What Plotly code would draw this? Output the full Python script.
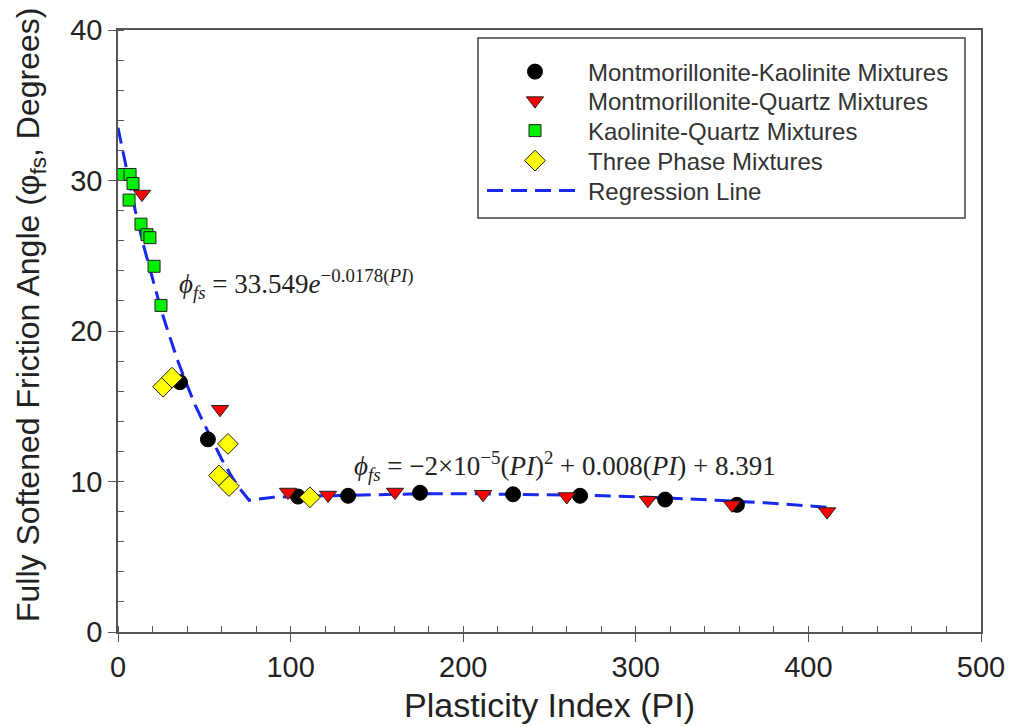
import plotly.graph_objects as go

# ---- data ----
mk_pi = [104.3, 133.3, 175.0, 228.9, 267.7, 317.0, 358.6, 35.9, 52.1]
mk_phi = [9.0, 9.05, 9.25, 9.15, 9.05, 8.8, 8.45, 16.6, 12.8]

mq_pi = [13.9, 59.1, 98.5, 121.7, 160.5, 211.5, 260.0, 307.0, 355.7, 410.8]
mq_phi = [29.1, 14.8, 9.3, 9.1, 9.3, 9.15, 9.0, 8.75, 8.45, 8.0]

kq_pi = [3.0, 7.0, 8.7, 6.4, 13.3, 16.8, 18.5, 20.9, 24.9]
kq_phi = [30.4, 30.4, 29.8, 28.7, 27.1, 26.4, 26.2, 24.3, 21.7]

tp_pi = [26.1, 31.3, 58.5, 63.7, 64.3, 111.2]
tp_phi = [16.3, 16.9, 10.4, 12.5, 9.7, 8.95]

reg_pi = [0, 5, 10, 15, 20, 25, 30, 35, 40, 45, 50, 55, 60, 65, 70, 76,
          90, 110, 130, 150, 175, 200, 225, 250, 275, 300, 325, 350, 375, 400, 415]
reg_phi = [33.5, 30.7, 28.0, 25.6, 23.5, 21.4, 19.6, 17.9, 16.4, 15.0, 13.8, 12.6,
           11.5, 10.5, 9.6, 8.75, 8.95, 9.03, 9.09, 9.14, 9.18, 9.19, 9.16, 9.14,
           9.07, 8.99, 8.88, 8.74, 8.58, 8.39, 8.26]

names = ["Montmorillonite-Kaolinite Mixtures", "Montmorillonite-Quartz Mixtures",
         "Kaolinite-Quartz Mixtures", "Three Phase Mixtures", "Regression Line"]

# plot area in pixels (for placing legend rows / titles)
L, R, T, B = 118, 981, 30, 632
PW, PH = R - L, B - T


def px(xp):
    return (xp - L) / PW


def py(yp):
    return (B - yp) / PH


fig = go.Figure()
fig.add_trace(go.Scatter(x=reg_pi, y=reg_phi, mode="lines", name=names[4],
                         line=dict(color="#1828ee", width=3, dash="16px,8px"),
                         showlegend=False))
fig.add_trace(go.Scatter(x=mk_pi, y=mk_phi, mode="markers", name=names[0], legend="legend",
                         marker=dict(symbol="circle", size=15, color="black",
                                     line=dict(color="black", width=1))))
fig.add_trace(go.Scatter(x=mq_pi, y=mq_phi, mode="markers", name=names[1], legend="legend2",
                         marker=dict(symbol="triangle-down", size=15, color="#ff0000",
                                     line=dict(color="#222", width=1))))
fig.add_trace(go.Scatter(x=kq_pi, y=kq_phi, mode="markers", name=names[2], legend="legend3",
                         marker=dict(symbol="square", size=12, color="#00ee00",
                                     line=dict(color="#222", width=1))))
fig.add_trace(go.Scatter(x=tp_pi, y=tp_phi, mode="markers", name=names[3], legend="legend4",
                         marker=dict(symbol="diamond", size=16, color="#ffff00",
                                     line=dict(color="#222", width=1))))
fig.add_trace(go.Scatter(x=[None], y=[None], mode="lines", name=names[4], legend="legend5",
                         line=dict(color="#1828ee", width=3, dash="16px,8px")))

axis_common = dict(showline=True, linecolor="#555", linewidth=1.5, mirror=True,
                   ticks="outside", ticklen=8, tickwidth=1.2, tickcolor="#555",
                   showgrid=False, zeroline=False, automargin=False,
                   tickfont=dict(family="Liberation Sans, Arial", size=29, color="#222"))

legend_rows_y = [72, 101, 131, 161, 191]
legend_font = dict(family="Liberation Sans, Arial", size=24, color="#333")
legends = {}
for i, yy in enumerate(legend_rows_y):
    key = "legend" if i == 0 else f"legend{i + 1}"
    legends[key] = dict(x=px(482), y=py(yy), xanchor="left", yanchor="middle",
                        bgcolor="rgba(0,0,0,0)", borderwidth=0, itemwidth=96,
                        font=legend_font)

fig.update_layout(
    width=1013, height=727,
    margin=dict(l=L, r=1013 - R, t=T, b=727 - B),
    paper_bgcolor="white", plot_bgcolor="white",
    xaxis=dict(range=[0, 500], dtick=100, tick0=0,
               minor=dict(dtick=20, ticks="inside", ticklen=6, tickcolor="#555"),
               title=dict(text="Plasticity Index (PI)", standoff=12,
                          font=dict(family="Liberation Sans, Arial", size=34, color="#222")),
               **axis_common),
    yaxis=dict(range=[0, 40], dtick=10, tick0=0,
               minor=dict(dtick=2, ticks="inside", ticklen=6, tickcolor="#555"),
               **axis_common),
    shapes=[dict(type="rect", xref="paper", yref="paper", x0=px(478), x1=px(965),
                 y0=py(218), y1=py(38), line=dict(color="#444", width=1.5))],
    annotations=[
        dict(x=px(30), y=py(315), xref="paper", yref="paper", xanchor="center", yanchor="middle",
             showarrow=False, textangle=-90,
             text="Fully Softened Friction Angle (φ<sub>fs</sub>, Degrees)",
             font=dict(family="Liberation Sans, Arial", size=32, color="#222")),
        dict(x=34.2, y=23.1, xref="x", yref="y", xanchor="left", yanchor="middle",
             showarrow=False,
             text="<i>ϕ</i><sub><i>fs</i></sub> = 33.549<i>e</i><sup>−0.0178(<i>PI</i>)</sup>",
             font=dict(family="Liberation Serif, Times New Roman", size=27, color="#222")),
        dict(x=135.6, y=11.0, xref="x", yref="y", xanchor="left", yanchor="middle",
             showarrow=False,
             text="<i>ϕ</i><sub><i>fs</i></sub> = −2×10<sup>−5</sup>(<i>PI</i>)<sup>2</sup> + 0.008(<i>PI</i>) + 8.391",
             font=dict(family="Liberation Serif, Times New Roman", size=27, color="#222")),
    ],
    **legends,
)

fig.write_html("out.html")
